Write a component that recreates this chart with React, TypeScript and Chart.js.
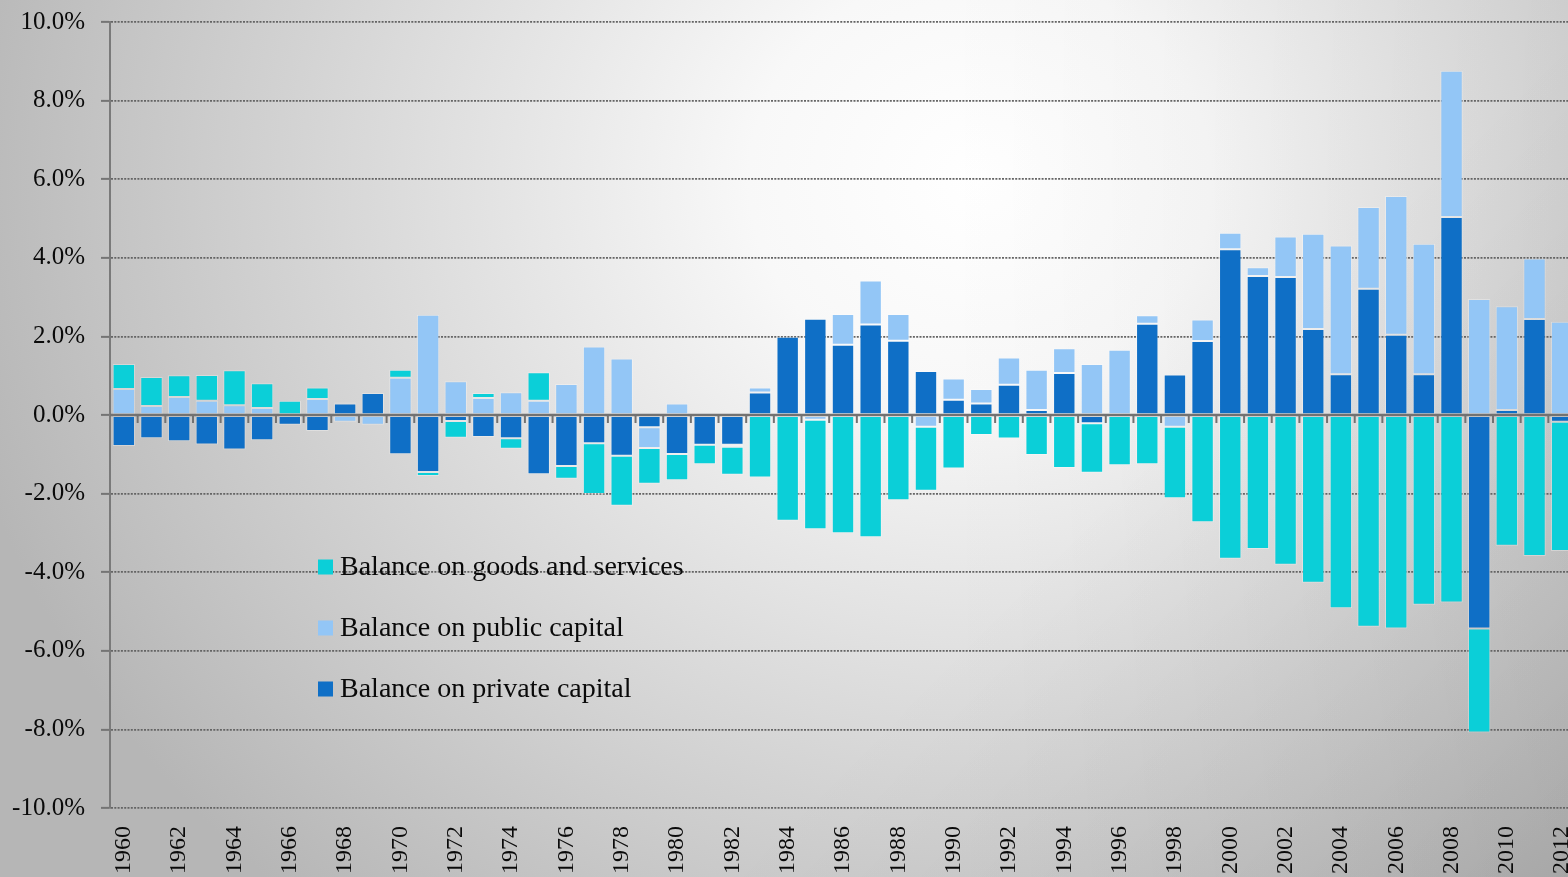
import React, { useEffect, useRef } from "react";
import { Chart, registerables } from "chart.js";

Chart.register(...registerables);

const years: string[] = [
  "1960","1961","1962","1963","1964","1965","1966","1967","1968","1969",
  "1970","1971","1972","1973","1974","1975","1976","1977","1978","1979",
  "1980","1981","1982","1983","1984","1985","1986","1987","1988","1989",
  "1990","1991","1992","1993","1994","1995","1996","1997","1998","1999",
  "2000","2001","2002","2003","2004","2005","2006","2007","2008","2009",
  "2010","2011","2012",
];

const privateCapital: number[] = [
  -0.79, -0.59, -0.67, -0.75, -0.88, -0.64, -0.25, -0.41, 0.29, 0.56,
  -1.0, -1.45, -0.15, -0.56, -0.59, -1.51, -1.3, -0.72, -1.04, -0.31,
  -0.99, -0.76, -0.76, 0.57, 1.99, 2.45, 1.79, 2.3, 1.89, 1.12,
  0.39, 0.29, 0.77, 0.13, 1.07, -0.21, 0.0, 2.32, 1.03, 1.88,
  4.22, 3.54, 3.51, 2.19, 1.04, 3.21, 2.04, 1.04, 5.04, -5.43,
  0.13, 2.44, -0.17,
];

const publicCapital: number[] = [
  0.66, 0.23, 0.46, 0.36, 0.25, 0.18, 0.0, 0.41, -0.17, -0.25,
  0.95, 2.55, 0.86, 0.43, 0.58, 0.36, 0.79, 1.74, 1.44, -0.53,
  0.29, 0.0, -0.05, 0.13, 0.0, -0.12, 0.78, 1.12, 0.68, -0.3,
  0.54, 0.37, 0.69, 1.02, 0.63, 1.3, 1.66, 0.22, -0.3, 0.55,
  0.42, 0.22, 1.03, 2.42, 3.27, 2.08, 3.53, 3.32, 3.72, 2.95,
  2.64, 1.54, 2.37,
];

const goodsAndServices: number[] = [
  0.64, 0.74, 0.55, 0.66, 0.89, 0.63, 0.36, 0.29, 0.03, 0.0,
  0.2, -0.1, -0.43, 0.13, -0.27, 0.73, -0.32, -1.29, -1.27, -0.91,
  -0.67, -0.49, -0.71, -1.59, -2.69, -2.79, -3.01, -3.11, -2.17, -1.63,
  -1.36, -0.51, -0.6, -1.02, -1.35, -1.26, -1.28, -1.25, -1.82, -2.73,
  -3.66, -3.41, -3.81, -4.27, -4.92, -5.39, -5.43, -4.83, -4.77, -2.65,
  -3.33, -3.59, -3.29,
];

const seriesLabels: string[] = [
  "Balance on private capital",
  "Balance on public capital",
  "Balance on goods and services",
];
const seriesColors: string[] = ["#0F6FC6", "#93C6F6", "#0BCFD8"];

const CANVAS_W = 1600;
const CANVAS_H = 920;
const FONT = "'Liberation Serif', 'Times New Roman', serif";

const zeroAxisPlugin = {
  id: "zeroAxis",
  afterDatasetsDraw(chart: any) {
    const { ctx, chartArea, scales } = chart;
    const x = scales.x;
    const y = scales.y;
    const y0 = y.getPixelForValue(0);
    const step = x.getPixelForValue(1) - x.getPixelForValue(0);
    ctx.save();
    ctx.strokeStyle = "#727272";
    ctx.lineWidth = 2.5;
    ctx.beginPath();
    ctx.moveTo(chartArea.left, y0);
    ctx.lineTo(chartArea.right, y0);
    ctx.stroke();
    ctx.lineWidth = 2;
    for (let i = 1; i <= years.length; i++) {
      const xb = x.getPixelForValue(i) - step / 2;
      ctx.beginPath();
      ctx.moveTo(xb, y0);
      ctx.lineTo(xb, y0 + 8);
      ctx.stroke();
    }
    ctx.restore();
  },
};

const insideLegendPlugin = {
  id: "insideLegend",
  afterDraw(chart: any) {
    const { ctx, chartArea } = chart;
    const ds = chart.data.datasets.slice().reverse();
    const x0 = chartArea.left + 208;
    const yTop = chartArea.top + 545;
    ctx.save();
    ctx.font = `28px ${FONT}`;
    ctx.textBaseline = "middle";
    ctx.textAlign = "left";
    ds.forEach((d: any, i: number) => {
      const yc = yTop + i * 61;
      ctx.fillStyle = d.backgroundColor;
      ctx.fillRect(x0, yc - 7.5, 15, 15);
      ctx.fillStyle = "#0a0a0a";
      ctx.fillText(d.label, x0 + 22, yc + 1);
    });
    ctx.restore();
  },
};

export default function App() {
  const canvasRef = useRef<HTMLCanvasElement | null>(null);

  useEffect(() => {
    const canvas = canvasRef.current;
    if (!canvas) return;
    const datasets = [privateCapital, publicCapital, goodsAndServices].map((data, i) => ({
      label: seriesLabels[i],
      data,
      backgroundColor: seriesColors[i],
      borderColor: "rgba(255,255,255,0.3)",
      borderWidth: 1,
      borderSkipped: false,
      categoryPercentage: 1,
      barPercentage: 0.81,
    }));
    const chart = new Chart(canvas, {
      type: "bar",
      data: { labels: years, datasets },
      options: {
        responsive: false,
        animation: false,
        devicePixelRatio: 1,
        layout: { padding: { top: 22, right: 24, left: 0, bottom: 0 } },
        plugins: {
          legend: { display: false },
          tooltip: { enabled: false },
        },
        scales: {
          x: {
            stacked: true,
            grid: { display: false, drawTicks: false },
            border: { display: false },
            ticks: {
              autoSkip: false,
              minRotation: 90,
              maxRotation: 90,
              padding: 18,
              color: "#0a0a0a",
              font: { family: FONT, size: 24 },
              callback: (_v: any, i: number) => (i % 2 === 0 ? years[i] : ""),
            },
            afterFit: (s: any) => {
              s.height = CANVAS_H - 808;
              s.paddingLeft = 0;
              s.paddingRight = 0;
            },
          },
          y: {
            stacked: true,
            min: -10,
            max: 10,
            ticks: {
              stepSize: 2,
              padding: 16,
              color: "#0a0a0a",
              font: { family: FONT, size: 25 },
              callback: (v: any) => Number(v).toFixed(1) + "%",
            },
            grid: {
              color: "#646464",
              lineWidth: 1.75,
              tickLength: 9,
              tickColor: "#747474",
              tickWidth: 2,
              tickBorderDash: [],
            },
            border: { display: true, color: "#7a7a7a", width: 2, dash: [2, 1.3] },
            afterFit: (s: any) => {
              s.width = 110;
              s.paddingTop = 0;
              s.paddingBottom = 0;
            },
          },
        },
      } as any,
      plugins: [zeroAxisPlugin, insideLegendPlugin],
    });
    return () => chart.destroy();
  }, []);

  return (
    <div
      style={{
        position: "fixed",
        left: 0,
        top: 0,
        width: 1568,
        height: 877,
        overflow: "hidden",
        background:
          "linear-gradient(135deg, rgba(0,0,0,0) 65%, rgba(0,0,0,0.07) 100%), linear-gradient(to right, rgba(0,0,0,0) 60%, rgba(0,0,0,0.05) 100%), radial-gradient(ellipse 1050px 950px at 980px 180px, #ffffff 0%, #f8f8f8 22%, #dcdcdc 55%, #b6b6b6 100%)",
      }}
    >
      <canvas
        ref={canvasRef}
        width={CANVAS_W}
        height={CANVAS_H}
        style={{ position: "absolute", left: 0, top: 0, width: CANVAS_W, height: CANVAS_H }}
      />
    </div>
  );
}
